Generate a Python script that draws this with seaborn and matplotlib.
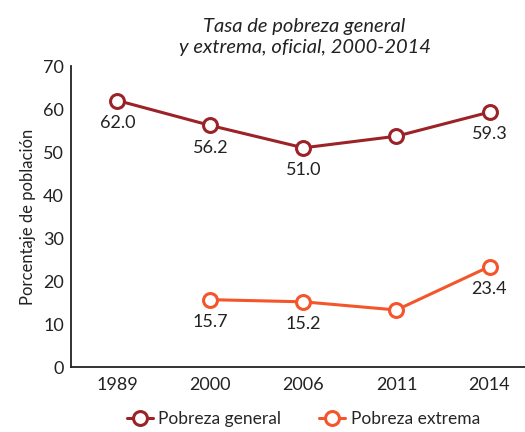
import numpy as np
import pandas as pd
import matplotlib
matplotlib.use('Agg')
import matplotlib.pyplot as plt
import seaborn as sns

years = ['1989', '2000', '2006', '2011', '2014']
general = [62.0, 56.2, 51.0, 53.7, 59.3]
extrema = [np.nan, 15.7, 15.2, 13.3, 23.4]
general_labels = ['62.0', '56.2', '51.0', '', '59.3']
extrema_labels = ['', '15.7', '15.2', '', '23.4']

sns.set_style('white')
plt.rcParams['font.family'] = ['Lato', 'DejaVu Sans']

c_gen = '#9b2327'
c_ext = '#f4552a'

df = pd.DataFrame({'year': years, 'general': general, 'extrema': extrema})

fig = plt.figure(figsize=(5.25, 4.32), dpi=100)
ax = fig.add_axes([0.135, 0.150, 0.886, 0.697])

mk = dict(marker='o', markersize=10, markerfacecolor='white', markeredgewidth=2.2, linewidth=2.2)
sns.lineplot(data=df, x='year', y='general', color=c_gen, markeredgecolor=c_gen,
             label='Pobreza general', ax=ax, **mk)
sns.lineplot(data=df.dropna(), x='year', y='extrema', color=c_ext, markeredgecolor=c_ext,
             label='Pobreza extrema', ax=ax, **mk)

for i, (v, t) in enumerate(zip(general, general_labels)):
    if t:
        ax.annotate(t, (i, v), xytext=(0, -16), textcoords='offset points',
                    ha='center', va='center', fontsize=13, color='#222222')
for i, (v, t) in enumerate(zip(extrema, extrema_labels)):
    if t:
        ax.annotate(t, (i, v), xytext=(0, -16), textcoords='offset points',
                    ha='center', va='center', fontsize=13, color='#222222')

ax.set_xlim(-0.5, 4.5)
ax.set_ylim(0, 70)
ax.set_yticks(range(0, 71, 10))
ax.set_xticks(range(5))
ax.set_xticklabels(years)
ax.set_xticks([0.5, 1.5, 2.5, 3.5], minor=True)
ax.tick_params(axis='x', which='major', length=0, labelsize=13, pad=7, colors='#222222')
ax.tick_params(axis='x', which='minor', direction='in', length=7, width=1.2, color='#222222')
ax.tick_params(axis='y', direction='in', length=7, width=1.2, labelsize=13, pad=5,
               color='#222222', labelcolor='#222222')

for s in ['top', 'right']:
    ax.spines[s].set_visible(False)
for s in ['left', 'bottom']:
    ax.spines[s].set_color('#222222')
    ax.spines[s].set_linewidth(1.3)

ax.set_xlabel('')
ax.set_ylabel('Porcentaje de población', fontsize=12, color='#222222', labelpad=5)

fig.text(0.58, 0.915, 'Tasa de pobreza general\ny extrema, oficial, 2000-2014',
         ha='center', va='center', fontsize=14.5, style='italic', color='#222222',
         linespacing=1.3)

ax.legend(loc='upper center', bbox_to_anchor=(0.50, -0.105), ncol=2, frameon=False,
          fontsize=12.5, handlelength=1.5, columnspacing=2.2, handletextpad=0.3,
          borderpad=0.2)

fig.savefig('out.png', dpi=100)
